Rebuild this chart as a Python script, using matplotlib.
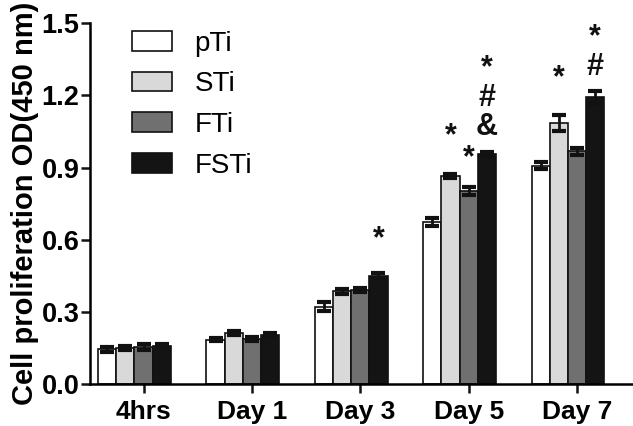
import numpy as np
import matplotlib
matplotlib.use("Agg")
import matplotlib.pyplot as plt
from matplotlib.patches import Patch

# ---------- data ----------
days = ["4hrs", "Day 1", "Day 3", "Day 5", "Day 7"]
groups = ["pTi", "STi", "FTi", "FSTi"]

pti  = [0.145, 0.185, 0.322, 0.675, 0.908]
sti  = [0.150, 0.212, 0.385, 0.865, 1.085]
fti  = [0.155, 0.188, 0.392, 0.803, 0.968]
fsti = [0.157, 0.205, 0.450, 0.957, 1.192]

pti_err  = [0.010, 0.008, 0.018, 0.016, 0.014]
sti_err  = [0.010, 0.007, 0.010, 0.008, 0.032]
fti_err  = [0.012, 0.009, 0.008, 0.016, 0.014]
fsti_err = [0.008, 0.006, 0.010, 0.008, 0.026]

# significance marks: day index, group index, text (stacked), y of block centre
marks_day   = [2, 3, 3, 3, 4, 4]
marks_group = [3, 1, 2, 3, 1, 3]
marks_text  = ["*", "*", "*", "*\n#\n&", "*", "*\n#"]
marks_y     = [0.60, 1.03, 0.94, 1.19, 1.27, 1.38]

colors = ["#ffffff", "#d9d9d9", "#707070", "#141414"]

plt.rcParams.update({
    "font.family": "Liberation Sans",
    "axes.linewidth": 1.8,
})

fig = plt.figure(figsize=(6.33, 4.26), dpi=100)
ax = fig.add_axes([0.1422, 0.0986, 0.856, 0.8467])

x = np.arange(len(days))
width = 0.168
series = [pti, sti, fti, fsti]
errs = [pti_err, sti_err, fti_err, fsti_err]

for i, (vals, err, col) in enumerate(zip(series, errs, colors)):
    pos = x + (i - 1.5) * width
    ax.bar(pos, vals, width=width, color=col, edgecolor="#111111",
           linewidth=1.2, zorder=2)
    ax.errorbar(pos, vals, yerr=err, fmt="none", ecolor="#111111",
                elinewidth=2.0, capsize=4.7, capthick=3.0, zorder=3)

for d, g, t, yy in zip(marks_day, marks_group, marks_text, marks_y):
    ax.text(x[d] + (g - 1.5) * width, yy, t, ha="center", va="center",
            fontsize=22, fontweight="bold", color="#111111", linespacing=0.98)

ax.set_xlim(-0.41, 4.59)
ax.set_ylim(0, 1.5)
ax.set_yticks([0.0, 0.3, 0.6, 0.9, 1.2, 1.5])
ax.set_yticklabels(["0.0", "0.3", "0.6", "0.9", "1.2", "1.5"])
# ticks sit under the third bar of each group, as in the original
ax.set_xticks(x + 0.5 * width)
ax.set_xticklabels(days)
for lab in ax.get_yticklabels():
    lab.set_fontsize(19.5)
    lab.set_fontweight("bold")
for lab in ax.get_xticklabels():
    lab.set_fontsize(19)
    lab.set_fontweight("bold")
ax.tick_params(axis="both", width=1.8, color="#111111")
ax.tick_params(axis="x", length=6.5, pad=5)
ax.tick_params(axis="y", length=6.5, pad=1)

ax.spines["top"].set_visible(False)
ax.spines["right"].set_visible(False)

ax.set_ylabel("Cell proliferation OD(450 nm)", fontsize=21, fontweight="bold",
              labelpad=2)

handles = [Patch(facecolor=c, edgecolor="#111111", linewidth=1.2) for c in colors]
ax.legend(handles, groups, loc="upper left", bbox_to_anchor=(0.078, 0.98),
          frameon=False, fontsize=20, handlelength=1.44, handleheight=0.72,
          labelspacing=0.53, handletextpad=0.8, borderpad=0, borderaxespad=0)

fig.savefig("out.png", dpi=100)
